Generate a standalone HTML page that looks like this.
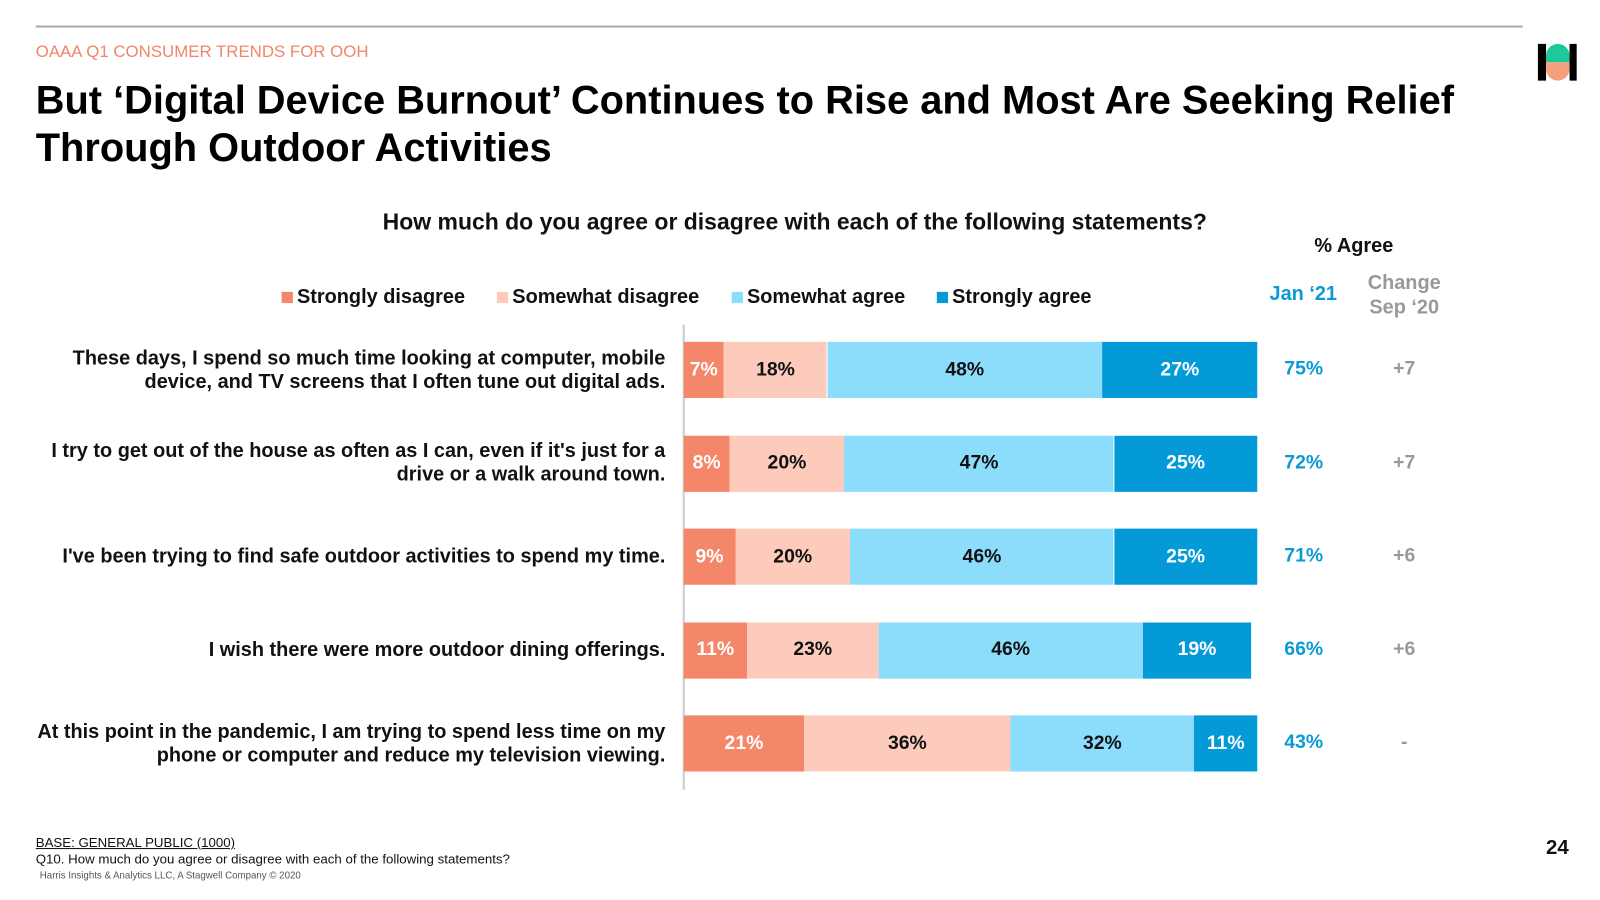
<!DOCTYPE html>
<html><head><meta charset="utf-8">
<style>
html,body{margin:0;background:#fff;font-family:"Liberation Sans",sans-serif;width:1600px;height:900px;overflow:hidden;}
#page{position:relative;width:1600px;height:900px;overflow:hidden;background:#fff;transform:scale(1.0205);transform-origin:0 0;}
.abs{position:absolute;}
.lbl{position:absolute;right:948px;text-align:right;font-weight:bold;font-size:19.5px;color:#111;line-height:23px;width:620px;}
.leg{position:absolute;top:280px;font-size:19.5px;font-weight:bold;color:#111;}
.leg span{display:inline-block;width:11px;height:11px;margin-right:4px;}
</style></head><body>
<div id="page">
<div class="abs" style="left:35px;top:25px;width:1457px;height:2px;background:#aaa"></div>
<div class="abs" style="left:35px;top:42px;font-size:16.5px;color:#f0866a">OAAA Q1 CONSUMER TRENDS FOR OOH</div>
<div class="abs" style="left:35px;top:75px;font-size:39px;font-weight:bold;color:#000;line-height:47px;width:1460px">But ‘Digital Device Burnout’ Continues to Rise and Most Are Seeking Relief Through Outdoor Activities</div>
<div class="abs" style="left:1507px;top:43px;width:38px;height:36px">
 <div class="abs" style="left:0;top:0;width:8px;height:36px;background:#000"></div>
 <div class="abs" style="left:31px;top:0;width:7px;height:36px;background:#000"></div>
 <div class="abs" style="left:8px;top:0;width:23px;height:18px;background:#1bc99a;border-radius:12px 12px 0 0"></div>
 <div class="abs" style="left:8px;top:18px;width:23px;height:18px;background:#f4a07e;border-radius:0 0 12px 12px"></div>
</div>
<div class="abs" style="left:375px;top:205px;font-size:22.5px;font-weight:bold;color:#111">How much do you agree or disagree with each of the following statements?</div>
<div class="abs" style="left:1288px;top:230px;font-size:19.5px;font-weight:bold;color:#111">% Agree</div>
<div class="abs" style="left:1244px;top:277px;font-size:19.5px;font-weight:bold;color:#0a9ad6">Jan ‘21</div>
<div class="abs" style="left:1330px;top:265px;width:92px;text-align:center;font-size:19.5px;font-weight:bold;color:#999;line-height:24px">Change<br>Sep ‘20</div>
<div class="leg" style="left:276px"><span style="background:#f4866a"></span>Strongly disagree</div>
<div class="leg" style="left:487px"><span style="background:#fccbbc"></span>Somewhat disagree</div>
<div class="leg" style="left:717px"><span style="background:#8cdcfb"></span>Somewhat agree</div>
<div class="leg" style="left:918px"><span style="background:#049ad8"></span>Strongly agree</div>
<div class="abs" style="left:669px;top:318px;width:2px;height:456px;background:#ccc"></div>
<div id="chart"></div>
<div class="abs" style="left:35px;top:818px;font-size:13px;color:#111;text-decoration:underline">BASE: GENERAL PUBLIC (1000)</div>
<div class="abs" style="left:35px;top:834px;font-size:13px;color:#111">Q10. How much do you agree or disagree with each of the following statements?</div>
<div class="abs" style="left:39px;top:853px;font-size:9.5px;color:#555">Harris Insights &amp; Analytics LLC, A Stagwell Company © 2020</div>
<div class="abs" style="left:1515px;top:820px;font-size:20px;font-weight:bold;color:#111">24</div>
</div>
<script>
const statements=["These days, I spend so much time looking at computer, mobile device, and TV screens that I often tune out digital ads.","I try to get out of the house as often as I can, even if it's just for a drive or a walk around town.","I've been trying to find safe outdoor activities to spend my time.","I wish there were more outdoor dining offerings.","At this point in the pandemic, I am trying to spend less time on my phone or computer and reduce my television viewing."];
const stronglyDisagree=[7,8,9,11,21];
const somewhatDisagree=[18,20,20,23,36];
const somewhatAgree=[48,47,46,46,32];
const stronglyAgree=[27,25,25,19,11];
const agreeJan21=["75%","72%","71%","66%","43%"];
const changeSep20=["+7","+7","+6","+6","-"];
const page=document.getElementById('page');
const x0=670, pxPer=5.62, rowY0=335, rowStep=91.5, barH=55;
const xs=v=>v*pxPer;
const series=[stronglyDisagree,somewhatDisagree,somewhatAgree,stronglyAgree];
const colors=["#f4866a","#fccbbc","#8cdcfb","#049ad8"];
const txtColors=["#fff","#111","#111","#fff"];
const names=["strongly-disagree","somewhat-disagree","somewhat-agree","strongly-agree"];
statements.forEach((s,i)=>{
  const y=rowY0+i*rowStep;
  const l=document.createElement('div');
  l.className='lbl';
  
  
  l.textContent=s;
  page.appendChild(l);
  const lines=s.length>70?2:1;
  l.style.top=(y+barH/2-lines*23/2)+'px';
  let x=x0;
  series.forEach((arr,k)=>{
    const w=xs(arr[i]);
    const b=document.createElement('div');
    
    
    b.style.cssText=`position:absolute;left:${x}px;top:${y}px;width:${w}px;height:${barH}px;background:${colors[k]};color:${txtColors[k]};font-weight:bold;font-size:19px;display:flex;align-items:center;justify-content:center;`;
    b.textContent=arr[i]+'%';
    page.appendChild(b);
    x+=w;
  });
  const a=document.createElement('div');
  
  
  a.style.cssText=`position:absolute;left:1240px;width:75px;text-align:center;top:${y+16}px;font-size:19px;font-weight:bold;color:#0a9ad6`;
  a.textContent=agreeJan21[i];
  page.appendChild(a);
  const c=document.createElement('div');
  
  
  c.style.cssText=`position:absolute;left:1340px;width:72px;text-align:center;top:${y+16}px;font-size:19px;font-weight:bold;color:#999`;
  c.textContent=changeSep20[i];
  page.appendChild(c);
});
</script>
</body></html>
